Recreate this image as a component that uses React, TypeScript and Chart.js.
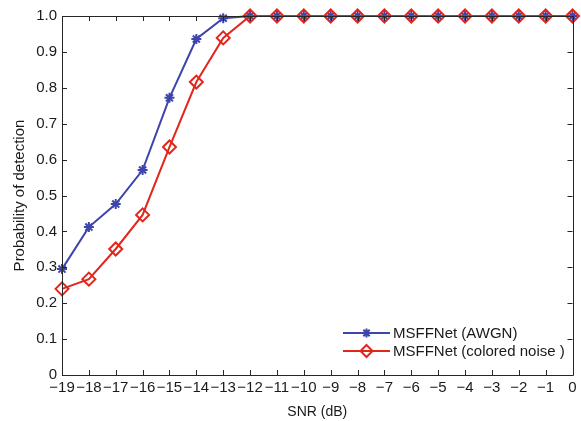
import { useEffect, useRef } from 'react';
import { Chart, registerables } from 'chart.js';

Chart.register(...registerables);

// SNR values (dB) along the x axis
const snrDb = [-19, -18, -17, -16, -15, -14, -13, -12, -11, -10, -9, -8, -7, -6, -5, -4, -3, -2, -1, 0];

// Detection probability, AWGN
const awgnPd = [0.295, 0.412, 0.476, 0.571, 0.772, 0.936, 0.994, 1, 1, 1, 1, 1, 1, 1, 1, 1, 1, 1, 1, 1];

// Detection probability, colored noise
const coloredPd = [0.24, 0.267, 0.351, 0.446, 0.635, 0.816, 0.939, 1, 1, 1, 1, 1, 1, 1, 1, 1, 1, 1, 1, 1];

const seriesNames = ['MSFFNet (AWGN)', 'MSFFNet (colored noise )'];
const xTitle = 'SNR (dB)';
const yTitle = 'Probability of detection';

const BLUE = '#3d45ad';
const RED = '#e2261c';
const AXIS = '#262626';
const FONT = '"Liberation Sans", Arial, Helvetica, sans-serif';

function drawStar(ctx: CanvasRenderingContext2D, x: number, y: number, r: number) {
  const d = r * Math.SQRT1_2;
  ctx.beginPath();
  ctx.moveTo(x - r, y); ctx.lineTo(x + r, y);
  ctx.moveTo(x, y - r); ctx.lineTo(x, y + r);
  ctx.moveTo(x - d, y - d); ctx.lineTo(x + d, y + d);
  ctx.moveTo(x - d, y + d); ctx.lineTo(x + d, y - d);
  ctx.stroke();
}

function drawDiamond(ctx: CanvasRenderingContext2D, x: number, y: number, r: number) {
  ctx.beginPath();
  ctx.moveTo(x, y - r); ctx.lineTo(x + r, y); ctx.lineTo(x, y + r); ctx.lineTo(x - r, y);
  ctx.closePath();
  ctx.stroke();
}

// Box frame with inward tick marks on all four sides, plus the legend
const framePlugin = {
  id: 'frame',
  afterDraw(chart: any) {
    const { ctx, chartArea: a, scales } = chart;
    const xs = scales.x;
    const ys = scales.y;
    const tl = 5;
    ctx.save();
    ctx.strokeStyle = AXIS;
    ctx.lineWidth = 1;
    ctx.beginPath();
    ctx.rect(Math.round(a.left) + 0.5, Math.round(a.top) + 0.5, Math.round(a.right - a.left), Math.round(a.bottom - a.top));
    ctx.stroke();
    ctx.beginPath();
    for (const v of snrDb) {
      const px = Math.round(xs.getPixelForValue(v)) + 0.5;
      ctx.moveTo(px, a.bottom); ctx.lineTo(px, a.bottom - tl);
      ctx.moveTo(px, a.top); ctx.lineTo(px, a.top + tl);
    }
    for (const t of ys.ticks) {
      const py = Math.round(ys.getPixelForValue(t.value)) + 0.5;
      ctx.moveTo(a.left, py); ctx.lineTo(a.left + tl, py);
      ctx.moveTo(a.right, py); ctx.lineTo(a.right - tl, py);
    }
    ctx.stroke();

    // legend
    const lx0 = 343, lx1 = 390, tx = 393;
    const rows = [
      { y: 333, color: BLUE, marker: 'star' },
      { y: 351, color: RED, marker: 'diamond' },
    ];
    ctx.font = `15px ${FONT}`;
    ctx.textBaseline = 'middle';
    ctx.textAlign = 'left';
    rows.forEach((r, i) => {
      ctx.strokeStyle = r.color;
      ctx.lineWidth = 2;
      ctx.beginPath();
      ctx.moveTo(lx0, r.y); ctx.lineTo(lx1, r.y);
      ctx.stroke();
      const mx = (lx0 + lx1) / 2;
      if (r.marker === 'star') drawStar(ctx, mx, r.y, 4.5);
      else drawDiamond(ctx, mx, r.y, 6);
      ctx.fillStyle = '#1a1a1a';
      ctx.fillText(seriesNames[i], tx, r.y + 1);
    });
    ctx.restore();
  },
};

export default function App() {
  const ref = useRef<HTMLCanvasElement>(null);

  useEffect(() => {
    if (!ref.current) return;
    const chart = new Chart(ref.current, {
      type: 'line',
      data: {
        datasets: [
          {
            label: seriesNames[0],
            data: snrDb.map((x, i) => ({ x, y: awgnPd[i] })),
            borderColor: BLUE,
            backgroundColor: BLUE,
            borderWidth: 2,
            pointStyle: 'star',
            pointRadius: 5,
            pointBorderWidth: 2,
            pointBorderColor: BLUE,
            clip: false,
            order: 1,
          },
          {
            label: seriesNames[1],
            data: snrDb.map((x, i) => ({ x, y: coloredPd[i] })),
            borderColor: RED,
            backgroundColor: 'rgba(0,0,0,0)',
            borderWidth: 2,
            pointStyle: 'rectRot',
            pointRadius: 6.5,
            pointBorderWidth: 2,
            pointBorderColor: RED,
            pointBackgroundColor: 'rgba(0,0,0,0)',
            clip: false,
            order: 0,
          },
        ],
      },
      options: {
        animation: false,
        responsive: false,
        events: [],
        layout: { padding: { left: 0, right: 7, top: 16, bottom: 0 } },
        plugins: { legend: { display: false }, tooltip: { enabled: false } },
        scales: {
          x: {
            type: 'linear',
            min: -19,
            max: 0,
            grid: { display: false, drawTicks: false },
            border: { display: false },
            ticks: {
              stepSize: 1,
              padding: 4,
              color: '#1a1a1a',
              font: { family: FONT, size: 15 },
              maxRotation: 0,
              autoSkip: false,
              callback: (v: any) => (v < 0 ? '\u2212' + Math.abs(v) : String(v)),
            },
            title: {
              display: true,
              text: xTitle,
              color: '#1a1a1a',
              font: { family: FONT, size: 14 },
              padding: { top: 4, bottom: 0 },
            },
            afterFit: (s: any) => { s.height = 46; },
          },
          y: {
            min: 0,
            max: 1,
            grid: { display: false, drawTicks: false },
            border: { display: false },
            ticks: {
              stepSize: 0.1,
              padding: 5,
              color: '#1a1a1a',
              font: { family: FONT, size: 15 },
              callback: (v: any) => (v === 0 ? '0' : Number(v).toFixed(1)),
            },
            title: {
              display: true,
              text: yTitle,
              color: '#1a1a1a',
              font: { family: FONT, size: 15 },
              padding: { top: 11, bottom: 0 },
            },
            afterFit: (s: any) => { s.width = 62; },
          },
        },
      },
      plugins: [framePlugin],
    });
    return () => chart.destroy();
  }, []);

  return (
    <div style={{ position: 'fixed', left: 0, top: 0, width: 581, height: 421, background: '#fff' }}>
      <canvas ref={ref} width={581} height={421} />
    </div>
  );
}
